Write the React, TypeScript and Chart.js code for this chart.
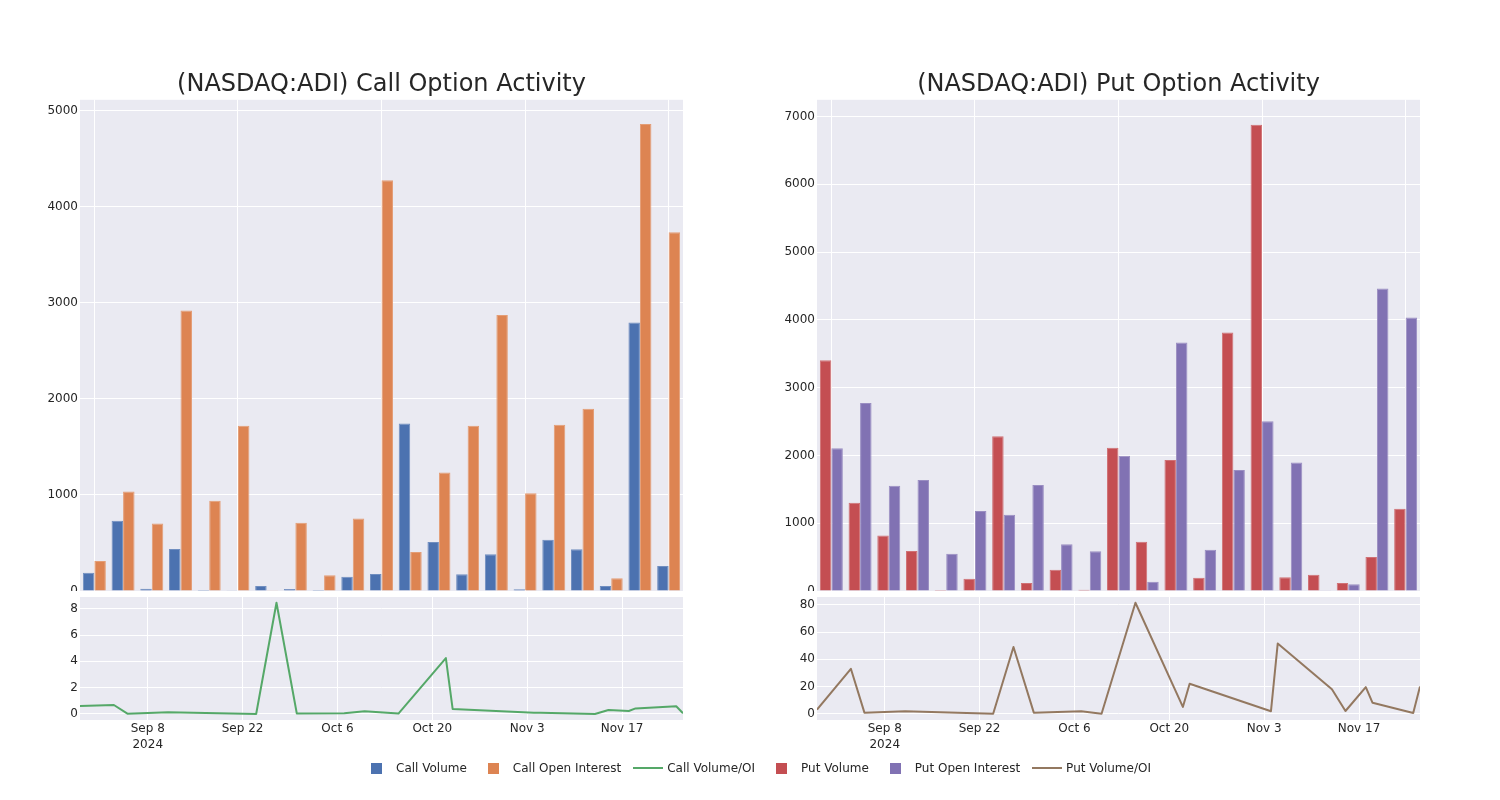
import React, { useEffect, useRef } from "react";
import { Chart, registerables } from "chart.js";

Chart.register(...registerables);

// ---------- data ----------
const barCategories = [
  "1", "2", "3", "4", "5", "6", "7", "8", "9", "10", "11",
  "12", "13", "14", "15", "16", "17", "18", "19", "20", "21",
];
const callVolume = [191, 730, 24, 438, 10, 7, 52, 21, 10, 149, 177, 1744, 511, 174, 382, 17, 532, 434, 52, 2794, 261];
const callOpenInterest = [313, 1035, 702, 2919, 938, 1720, 3, 709, 163, 754, 4274, 407, 1234, 1720, 2873, 1018, 1730, 1897, 132, 4858, 3732];
const putVolume = [3404, 1303, 817, 590, 15, 182, 2282, 118, 315, 20, 2115, 728, 1933, 197, 3812, 6877, 202, 241, 118, 502, 1215];
const putOpenInterest = [2105, 2774, 1554, 1638, 551, 1180, 1126, 1564, 689, 585, 1997, 138, 3665, 610, 1786, 2504, 1894, 5, 98, 4461, 4036];

const ratioDates = [
  "2024-08-29", "2024-09-03", "2024-09-05", "2024-09-11", "2024-09-24",
  "2024-09-27", "2024-09-30", "2024-10-07", "2024-10-10", "2024-10-15",
  "2024-10-22", "2024-10-23", "2024-11-04", "2024-11-05", "2024-11-13",
  "2024-11-15", "2024-11-18", "2024-11-19", "2024-11-25", "2024-11-26",
];
const callVolumeOI = [0.6, 0.68, 0.02, 0.12, 0.0, 8.45, 0.03, 0.06, 0.2, 0.03, 4.25, 0.38, 0.1, 0.1, 0.0, 0.3, 0.22, 0.42, 0.58, 0.05];
const putVolumeOI = [3, 33, 0.8, 1.8, 0, 49, 0.8, 1.8, 0, 81.5, 5, 22, 1.8, 51.5, 18, 2, 19.5, 8, 0.5, 20];

const dateTicks = ["2024-09-08", "2024-09-22", "2024-10-06", "2024-10-20", "2024-11-03", "2024-11-17"];
const dateTickLabels: (string | string[])[] = [["Sep 8", "2024"], "Sep 22", "Oct 6", "Oct 20", "Nov 3", "Nov 17"];

const callBarTicks = [0, 1000, 2000, 3000, 4000, 5000];
const putBarTicks = [0, 1000, 2000, 3000, 4000, 5000, 6000, 7000];
const callRatioTicks = [0, 2, 4, 6, 8];
const putRatioTicks = [0, 20, 40, 60, 80];

const legendLabels = ["Call Volume", "Call Open Interest", "Call Volume/OI", "Put Volume", "Put Open Interest", "Put Volume/OI"];

// ---------- styles ----------
const FONT = "DejaVu Sans";
const TEXT = "#262626";
const BG = "#EAEAF2";
const COLORS = {
  callVol: "#4C72B0",
  callOI: "#DD8452",
  callRatio: "#55A868",
  putVol: "#C44E52",
  putOI: "#8172B3",
  putRatio: "#937860",
};
const EDGES = {
  callVol: "#708EC0",
  callOI: "#E49D75",
  putVol: "#D07175",
  putOI: "#9A8EC2",
};
const legendStyle = [
  { color: COLORS.callVol, kind: "box" },
  { color: COLORS.callOI, kind: "box" },
  { color: COLORS.callRatio, kind: "line" },
  { color: COLORS.putVol, kind: "box" },
  { color: COLORS.putOI, kind: "box" },
  { color: COLORS.putRatio, kind: "line" },
];

const dayNum = (s: string) => {
  const [y, m, d] = s.split("-").map(Number);
  return Date.UTC(y, m - 1, d) / 86400000;
};

const bgPlugin = {
  id: "plotBg",
  beforeDraw(chart: any) {
    const { ctx, chartArea: a } = chart;
    ctx.save();
    ctx.fillStyle = BG;
    ctx.fillRect(a.left, a.top, a.right - a.left, a.bottom - a.top);
    ctx.restore();
  },
};

const fixedTicks = (vals: number[]) => (scale: any) => {
  scale.ticks = vals.map((v) => ({ value: v }));
};

function barConfig(title: string, labels: string[], a: number[], b: number[], la: string, lb: string, ca: string, cb: string, ea: string, eb: string, ymax: number, yticks: number[], axisW: number, padRight: number) {
  return {
    type: "bar",
    data: {
      labels,
      datasets: [
        { label: la, data: a, backgroundColor: ca, borderColor: ea, borderWidth: 1 },
        { label: lb, data: b, backgroundColor: cb, borderColor: eb, borderWidth: 1 },
      ],
    },
    options: {
      responsive: false,
      maintainAspectRatio: false,
      animation: false,
      devicePixelRatio: 1,
      layout: { padding: { left: 0, right: padRight, top: 0, bottom: 0 } },
      datasets: { bar: { categoryPercentage: 0.8, barPercentage: 1.0 } },
      plugins: {
        legend: { display: false },
        tooltip: { enabled: false },
        title: {
          display: true,
          fullSize: false,
          text: title,
          color: TEXT,
          font: { family: FONT, size: 24, weight: "normal", lineHeight: 1.2 },
          padding: { top: 10, bottom: 1 },
        },
      },
      scales: {
        x: {
          grid: {
            offset: false,
            drawTicks: false,
            lineWidth: 1,
            color: (c: any) => (c.index % 5 === 0 ? "#ffffff" : "rgba(0,0,0,0)"),
          },
          border: { display: false },
          ticks: { display: false },
          afterFit: (s: any) => {
            s.height = 0;
            s.paddingLeft = 0;
            s.paddingRight = 0;
          },
        },
        y: {
          min: 0,
          max: ymax,
          afterBuildTicks: fixedTicks(yticks),
          grid: { color: "#ffffff", drawTicks: false, lineWidth: 1 },
          border: { display: false },
          ticks: { padding: 2, color: TEXT, font: { family: FONT, size: 12 }, callback: (v: any) => String(v) },
          afterFit: (s: any) => {
            s.width = axisW;
            s.paddingTop = 0;
            s.paddingBottom = 0;
          },
        },
      },
    },
    plugins: [bgPlugin],
  };
}

function lineConfig(label: string, values: number[], color: string, ymin: number, ymax: number, yticks: number[], axisW: number, padRight: number, xAxisH: number) {
  const xs = ratioDates.map(dayNum);
  return {
    type: "line",
    data: {
      datasets: [
        {
          label,
          data: values.map((v, i) => ({ x: xs[i], y: v })),
          borderColor: color,
          borderWidth: 2,
          pointRadius: 0,
          tension: 0,
          borderJoinStyle: "round",
          fill: false,
        },
      ],
    },
    options: {
      responsive: false,
      maintainAspectRatio: false,
      animation: false,
      devicePixelRatio: 1,
      layout: { padding: { left: 0, right: padRight, top: 0, bottom: 0 } },
      plugins: { legend: { display: false }, tooltip: { enabled: false } },
      scales: {
        x: {
          type: "linear",
          min: xs[0],
          max: xs[xs.length - 1],
          afterBuildTicks: fixedTicks(dateTicks.map(dayNum)),
          grid: { color: "#ffffff", drawTicks: false, lineWidth: 1 },
          border: { display: false },
          ticks: {
            padding: 0,
            autoSkip: false,
            maxRotation: 0,
            color: TEXT,
            font: { family: FONT, size: 12, lineHeight: 1.4 },
            callback: (_v: any, i: number) => dateTickLabels[i],
          },
          afterFit: (s: any) => {
            s.height = xAxisH;
            s.paddingLeft = 0;
            s.paddingRight = 0;
          },
        },
        y: {
          min: ymin,
          max: ymax,
          afterBuildTicks: fixedTicks(yticks),
          grid: { color: "#ffffff", drawTicks: false, lineWidth: 1 },
          border: { display: false },
          ticks: { padding: 2, color: TEXT, font: { family: FONT, size: 12 }, callback: (v: any) => String(v) },
          afterFit: (s: any) => {
            s.width = axisW;
            s.paddingTop = 0;
            s.paddingBottom = 0;
          },
        },
      },
    },
    plugins: [bgPlugin],
  };
}

function ChartBox({ config, left, top, width, height }: { config: any; left: number; top: number; width: number; height: number }) {
  const ref = useRef<HTMLCanvasElement | null>(null);
  useEffect(() => {
    if (!ref.current) return;
    const chart = new Chart(ref.current, config);
    return () => chart.destroy();
  }, [config]);
  return (
    <canvas
      ref={ref}
      width={width}
      height={height}
      style={{ position: "absolute", left, top, width, height }}
    />
  );
}

const cfgCallBars = barConfig("(NASDAQ:ADI) Call Option Activity", barCategories, callVolume, callOpenInterest, "Call Volume", "Call Open Interest", COLORS.callVol, COLORS.callOI, EDGES.callVol, EDGES.callOI, 5111, callBarTicks, 80, 7);
const cfgPutBars = barConfig("(NASDAQ:ADI) Put Option Activity", barCategories, putVolume, putOpenInterest, "Put Volume", "Put Open Interest", COLORS.putVol, COLORS.putOI, EDGES.putVol, EDGES.putOI, 7246, putBarTicks, 77, 7);
const cfgCallLine = lineConfig("Call Volume/OI", callVolumeOI, COLORS.callRatio, -0.46, 8.89, callRatioTicks, 80, 7, 47);
const cfgPutLine = lineConfig("Put Volume/OI", putVolumeOI, COLORS.putRatio, -4.6, 85.7, putRatioTicks, 77, 7, 47);

export default function App() {
  return (
    <div style={{ position: "absolute", left: 0, top: 0, width: 1500, height: 800, background: "#ffffff", overflow: "hidden" }}>
      <ChartBox config={cfgCallBars} left={0} top={60} width={690} height={531} />
      <ChartBox config={cfgPutBars} left={740} top={60} width={687} height={531} />
      <ChartBox config={cfgCallLine} left={0} top={597} width={690} height={170} />
      <ChartBox config={cfgPutLine} left={740} top={597} width={687} height={170} />
      <div
        style={{
          position: "absolute",
          left: 361.5,
          top: 760,
          height: 16,
          display: "flex",
          alignItems: "center",
          fontFamily: FONT,
          fontSize: 12,
          color: TEXT,
          whiteSpace: "nowrap",
        }}
      >
        {legendLabels.map((lab, i) => (
          <div key={lab} style={{ display: "flex", alignItems: "center", marginRight: i < legendLabels.length - 1 ? 11.5 : 0 }}>
            <span style={{ width: 30, height: 16, display: "flex", alignItems: "center", justifyContent: "center" }}>
              {legendStyle[i].kind === "box" ? (
                <span style={{ width: 11, height: 11, background: legendStyle[i].color, display: "block" }} />
              ) : (
                <span style={{ width: 30, height: 2, background: legendStyle[i].color, display: "block" }} />
              )}
            </span>
            <span style={{ marginLeft: 4.5, lineHeight: "16px" }}>{lab}</span>
          </div>
        ))}
      </div>
    </div>
  );
}
